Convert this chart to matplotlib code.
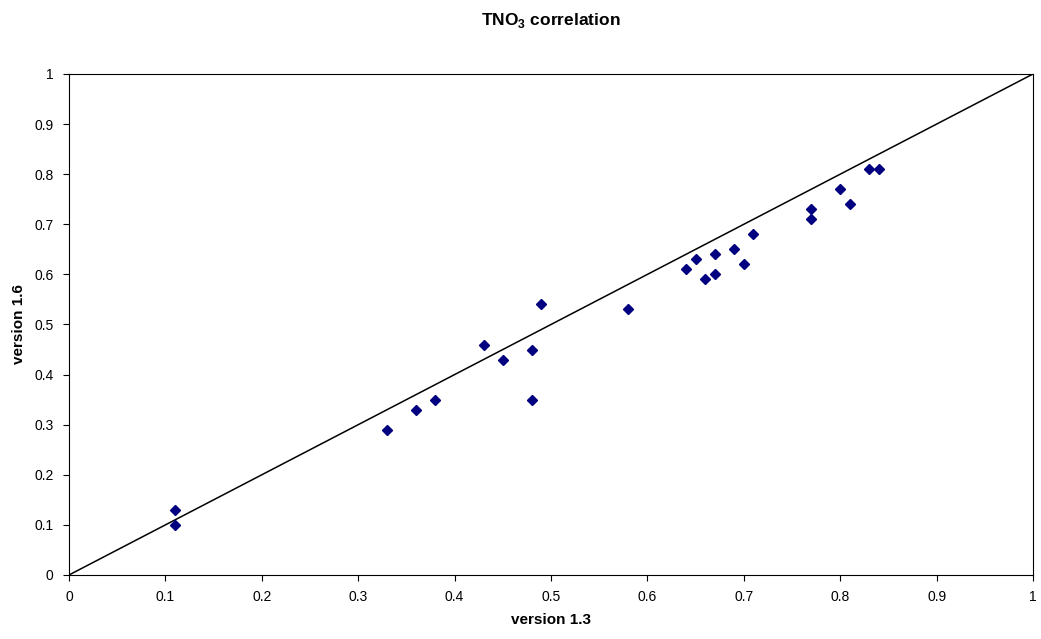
import matplotlib
matplotlib.use("Agg")
import matplotlib.pyplot as plt

plt.rcParams['font.family'] = ['Liberation Sans', 'DejaVu Sans']
plt.rcParams['mathtext.fontset'] = 'custom'
plt.rcParams['mathtext.rm'] = 'Liberation Sans'
plt.rcParams['mathtext.bf'] = 'Liberation Sans:bold'

# version 1.3 vs version 1.6 values
v13 = [0.11, 0.11, 0.33, 0.36, 0.38, 0.43, 0.45, 0.48, 0.48, 0.49, 0.58,
       0.64, 0.65, 0.66, 0.67, 0.67, 0.69, 0.70, 0.71, 0.77, 0.77, 0.80,
       0.81, 0.83, 0.84]
v16 = [0.13, 0.10, 0.29, 0.33, 0.35, 0.46, 0.43, 0.45, 0.35, 0.54, 0.53,
       0.61, 0.63, 0.59, 0.64, 0.60, 0.65, 0.62, 0.68, 0.73, 0.71, 0.77,
       0.74, 0.81, 0.81]
line_x = [0, 1]
line_y = [0, 1]
ticks = [0, 0.1, 0.2, 0.3, 0.4, 0.5, 0.6, 0.7, 0.8, 0.9, 1]
tick_labels = ['0', '0.1', '0.2', '0.3', '0.4', '0.5', '0.6', '0.7', '0.8', '0.9', '1']

fig = plt.figure(figsize=(10.41, 6.39), dpi=100)
ax = fig.add_axes([0.0663, 0.1002, 0.926, 0.784])

ax.plot(line_x, line_y, color='black', linewidth=1.1)
ax.plot(v13, v16, linestyle='none', marker='D', markersize=5,
        color='#000080', markeredgecolor='#000080')

ax.set_xlim(0, 1)
ax.set_ylim(0, 1)
ax.set_xticks(ticks)
ax.set_xticklabels(tick_labels)
ax.set_yticks(ticks)
ax.set_yticklabels(tick_labels)
ax.tick_params(direction='out', length=4, width=0.8, labelsize=10, pad=7)
for s in ax.spines.values():
    s.set_linewidth(0.8)
    s.set_color('black')

ax.set_xlabel('version 1.3', fontsize=11, fontweight='bold', labelpad=6)
ax.set_ylabel('version 1.6', fontsize=11, fontweight='bold', labelpad=6)
# title is centred over the plot area, not the figure
ax.set_title(r'TNO$_\mathbf{3}$ correlation', fontsize=12.5, fontweight='bold', pad=35)

fig.savefig('out.png', dpi=100)
